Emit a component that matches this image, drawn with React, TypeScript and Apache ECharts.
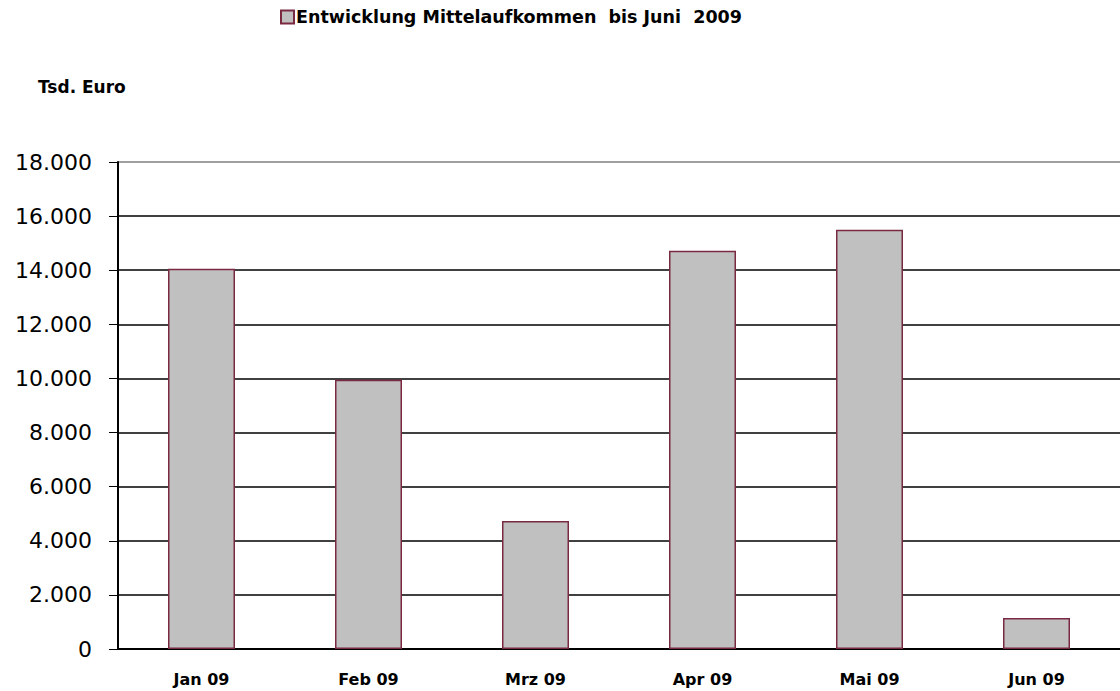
import React, { useEffect, useRef } from "react";
import * as echarts from "echarts";

const categories = ["Jan 09", "Feb 09", "Mrz 09", "Apr 09", "Mai 09", "Jun 09"];
const values = [14050, 9950, 4730, 14720, 15500, 1150];
const seriesName = "Entwicklung Mittelaufkommen  bis Juni  2009";
const unitLabel = "Tsd. Euro";

const FONT = "'DejaVu Sans', Verdana, sans-serif";

export default function App() {
  const ref = useRef<HTMLDivElement>(null);
  useEffect(() => {
    document.body.style.margin = "0";
    if (!ref.current) return;
    const chart = echarts.init(ref.current, undefined, { renderer: "svg" });
    const fmt = (v: number) =>
      v === 0 ? "0" : v.toLocaleString("de-DE").replace(/,/g, ".");
    chart.setOption({
      animation: false,
      backgroundColor: "#ffffff",
      textStyle: { fontFamily: FONT },
      legend: {
        data: [seriesName],
        left: 275,
        top: 3,
        icon: "rect",
        itemWidth: 13,
        itemHeight: 13,
        itemGap: 4,
        textStyle: { fontSize: 17.5, fontWeight: "bold", color: "#000", fontFamily: FONT, padding: [0, 0, 0, -3] },
      },
      graphic: [
        {
          type: "text",
          left: 38,
          top: 78,
          style: { text: unitLabel, fontSize: 17, fontWeight: "bold", fill: "#000", fontFamily: FONT },
        },
      ],
      grid: { left: 118, top: 162, width: 1014, height: 487 },
      xAxis: {
        type: "category",
        data: categories,
        axisLine: { lineStyle: { color: "#000", width: 2 } },
        axisTick: { length: 6, lineStyle: { color: "#000", width: 1 } },
        axisLabel: { fontSize: 16, fontWeight: "bold", color: "#000", margin: 22, fontFamily: FONT },
      },
      yAxis: {
        type: "value",
        min: 0,
        max: 18000,
        interval: 2000,
        axisLine: { show: true, lineStyle: { color: "#000", width: 2 } },
        axisTick: { show: true, length: 9, lineStyle: { color: "#000", width: 1 } },
        axisLabel: {
          fontSize: 22,
          color: "#000",
          margin: 26,
          fontFamily: FONT,
          formatter: fmt,
        },
        splitLine: {
          show: true,
          lineStyle: {
            width: 1.5,
            color: ["#000", "#000", "#000", "#000", "#000", "#000", "#000", "#000", "#000", "#808080"],
          },
        },
      },
      series: [
        {
          name: seriesName,
          type: "bar",
          data: values,
          barWidth: 67,
          itemStyle: { color: "#c0c0c0", borderColor: "#7a2a40", borderWidth: 1.5 },
        },
      ],
    });
    return () => chart.dispose();
  }, []);
  return <div ref={ref} style={{ width: 1120, height: 691 }} />;
}
